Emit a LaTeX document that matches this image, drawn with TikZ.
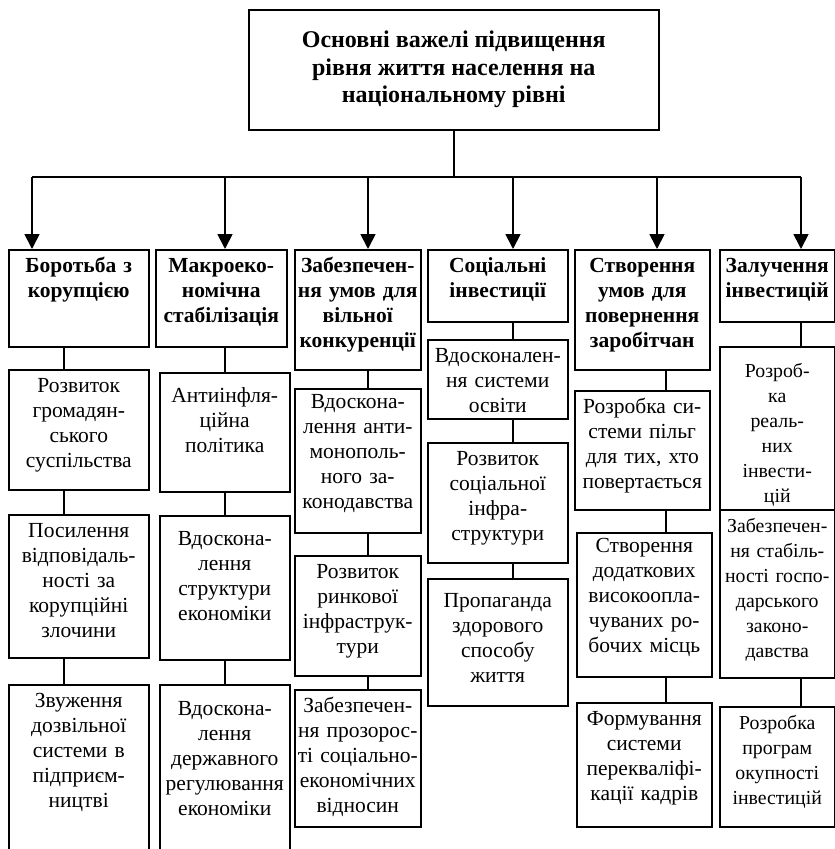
\documentclass[tikz,border=0pt]{standalone}
\usepackage{fontspec}
\setmainfont{Liberation Serif}
\usepackage{tikz}
\usetikzlibrary{arrows.meta}

\begin{document}
\begin{tikzpicture}[x=1pt, y=-1pt,
  box/.style={draw, rectangle, line width=1.5pt, anchor=north west, align=center, inner xsep=1pt, inner ysep=0pt, text height=23pt, font=\fontsize{21.5}{25}\selectfont},
  narrowbox/.style={box, font=\fontsize{19.8}{25}\selectfont},
  head/.style={box, font=\fontsize{21.5}{25}\selectfont\bfseries},
  link/.style={line width=1.5pt},
  arrow/.style={line width=1.8pt, -{Triangle[width=15pt, length=15pt]}}]
  \useasboundingbox (0,0) rectangle (835,849);
  \clip (0,0) rectangle (835,849);

  \node[draw, line width=1.5pt, anchor=north west, minimum width=410pt, minimum height=120pt, align=center, font=\fontsize{24}{27.5}\selectfont\bfseries] (main) at (248,9)
    {Основні важелі підвищення\\рівня життя населення на\\національному рівні};

  % column heads
  \node[head, text width=138pt, text depth=74pt] (h1) at (8,249) {Боротьба з\\корупцією};
  \node[head, text width=129pt, text depth=74pt] (h2) at (155,249) {Макроеко-\\номічна\\стабілізація};
  \node[head, text width=124pt, text depth=97pt] (h3) at (294,249) {Забезпечен-\\ня умов для\\вільної\\конкуренції};
  \node[head, text width=138pt, text depth=49pt] (h4) at (427,249) {Соціальні\\інвестиції};
  \node[head, text width=133pt, text depth=97pt] (h5) at (574,249) {Створення\\умов для\\повернення\\заробітчан};
  \node[head, text width=113pt, text depth=49pt] (h6) at (719,249) {Залучення\\інвестицій};

  % column 1
  \node[box, text width=138pt, text depth=97pt] (b11) at (8,369) {Розвиток\\громадян-\\ського\\суспільства};
  \node[box, text width=138pt, text depth=120pt] (b12) at (8,514) {Посилення\\відповідаль-\\ності за\\корупційні\\злочини};
  \node[box, text width=138pt, text depth=177pt] (b13) at (8,684) {Звуження\\дозвільної\\системи в\\підприєм-\\ництві};
  % column 2
  \node[box, text width=128pt, text height=30pt, text depth=89pt] (b21) at (159,372) {Антиінфля-\\ційна\\політика};
  \node[box, text width=128pt, text height=30pt, text depth=114pt] (b22) at (159,515) {Вдоскона-\\лення\\структури\\економіки};
  \node[box, text width=128pt, text height=31pt, text depth=169pt] (b23) at (159,684) {Вдоскона-\\лення\\державного\\регулювання\\економіки};
  % column 3
  \node[box, text width=124pt, text height=20pt, text depth=124pt] (b31) at (294,388) {Вдоскона-\\лення анти-\\монополь-\\ного за-\\конодавства};
  \node[box, text width=124pt, text depth=97pt] (b32) at (294,555) {Розвиток\\ринкової\\інфраструк-\\тури};
  \node[box, text width=124pt, text depth=114pt] (b33) at (294,689) {Забезпечен-\\ня прозорос-\\ті соціально-\\економічних\\відносин};
  % column 4
  \node[box, text width=138pt, text depth=56pt] (b41) at (427,339) {Вдосконален-\\ня системи\\освіти};
  \node[box, text width=138pt, text depth=97pt] (b42) at (427,442) {Розвиток\\соціальної\\інфра-\\структури};
  \node[box, text width=138pt, text height=29pt, text depth=98pt] (b43) at (427,578) {Пропаганда\\здорового\\способу\\життя};
  % column 5
  \node[box, text width=133pt, text depth=96pt] (b51) at (574,390) {Розробка си-\\стеми пільг\\для тих, хто\\повертається};
  \node[box, text width=133pt, text height=20pt, text depth=124pt] (b52) at (576,532) {Створення\\додаткових\\високоопла-\\чуваних ро-\\бочих місць};
  \node[box, text width=133pt, text depth=101pt] (b53) at (576,702) {Формування\\системи\\перекваліфі-\\кації кадрів};
  % column 6
  \node[narrowbox, text width=113pt, text height=31pt, text depth=132pt] (b61) at (719,346) {Розроб-\\ка\\реаль-\\них\\інвести-\\цій};
  \node[narrowbox, text width=113pt, text depth=145pt] (b62) at (719,509) {Забезпечен-\\ня стабіль-\\ності госпо-\\дарського\\законо-\\давства};
  \node[narrowbox, text width=113pt, text depth=97pt] (b63) at (719,706) {Розробка\\програм\\окупності\\інвестицій};

  % bus and arrows
  \coordinate (a1) at (32,177);
  \coordinate (a2) at (225,177);
  \coordinate (a3) at (368,177);
  \coordinate (a4) at (513,177);
  \coordinate (a5) at (657,177);
  \coordinate (a6) at (801,177);
  \coordinate (c1) at (64,177);
  \coordinate (c5) at (666,177);
  \draw[link] (main.south) -- (main.south |- a1);
  \draw[link] (a1) -- (a6);
  \foreach \a/\h in {a1/h1, a2/h2, a3/h3, a4/h4, a5/h5, a6/h6}
    \draw[arrow] (\a) -- (\a |- \h.north);

  % links inside the columns
  \foreach \u/\v/\c in {h1/b11/c1, b11/b12/c1, b12/b13/c1,
                        h2/b21/a2, b21/b22/a2, b22/b23/a2,
                        h3/b31/a3, b31/b32/a3, b32/b33/a3,
                        h4/b41/a4, b41/b42/a4, b42/b43/a4,
                        h5/b51/c5, b51/b52/c5, b52/b53/c5,
                        h6/b61/a6, b62/b63/a6}
    \draw[link] (\u.south -| \c) -- (\v.north -| \c);
\end{tikzpicture}
\end{document}
